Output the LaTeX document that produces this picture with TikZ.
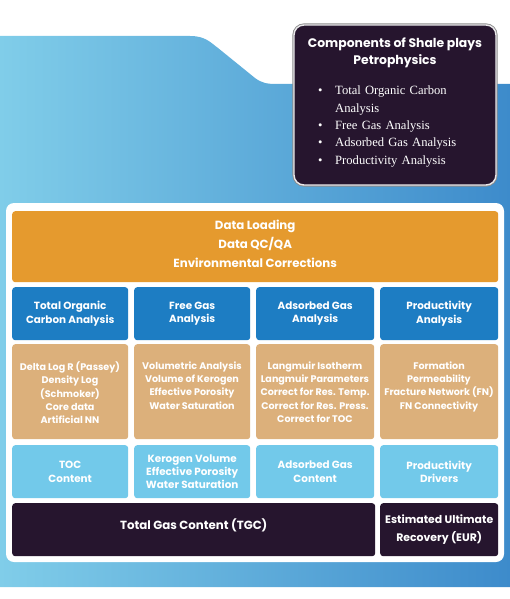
\documentclass[tikz,border=0pt]{standalone}
\usepackage{fontspec}
\setmainfont{Liberation Serif}
\setsansfont{Poppins}
\definecolor{bgL}{HTML}{80CDE9}
\definecolor{bgR}{HTML}{3D8BCB}
\definecolor{darkP}{HTML}{26152E}
\definecolor{orangeC}{HTML}{E59A2E}
\definecolor{blueH}{HTML}{1D7DC3}
\definecolor{tanC}{HTML}{DCB07B}
\definecolor{lblue}{HTML}{72C9EA}
\begin{document}
\begin{tikzpicture}[x=1pt,y=-1pt,
  boxbase/.style={anchor=north west,inner sep=0pt,rounded corners=3pt,align=center,text=white,font=\sffamily\bfseries\fontsize{10.4}{13.3}\selectfont},
  headbox/.style={boxbase,fill=blueH},
  tanbox/.style={boxbase,fill=tanC},
  tantext/.style={boxbase,anchor=north,font=\sffamily\bfseries\fontsize{9.6}{13.3}\selectfont},
  lbbox/.style={boxbase,fill=lblue},
  darkbox/.style={boxbase,fill=darkP,font=\sffamily\bfseries\fontsize{11.8}{18}\selectfont}
]
\useasboundingbox (0,0) rectangle (510,599);
% background shape
\shade[left color=bgL,right color=bgR]
  (0,36) -- (190,36) .. controls (205,36) and (210,42) .. (218,48)
  -- (255,78) .. controls (262,83) and (266,84) .. (278,84)
  -- (510,84) -- (510,587) -- (0,587) -- cycle;
% components box
\draw[draw=black!45,line width=3.2pt,rounded corners=10pt] (294,25) rectangle (496,185);
\draw[fill=darkP,draw=white!90!darkP,line width=1.4pt,rounded corners=10pt] (294,25) rectangle (496,185);
\node[anchor=north,align=center,text=white,font=\sffamily\bfseries\fontsize{12.4}{17}\selectfont,inner sep=0pt] (title) at (395,38) {Components of Shale plays\\Petrophysics};
\node[anchor=north west,text=white,font=\fontsize{12.6}{17.3}\selectfont,inner sep=0pt,text width=150pt,align=left] (list) at (318,86)
 {\makebox[17pt][l]{\textbullet}Total Organic Carbon\\
  \hspace*{17pt}Analysis\\
  \makebox[17pt][l]{\textbullet}Free Gas Analysis\\
  \makebox[17pt][l]{\textbullet}Adsorbed Gas Analysis\\
  \makebox[17pt][l]{\textbullet}Productivity Analysis};
% white panel
\fill[white,rounded corners=8pt] (6,203) rectangle (504,562);
% orange
\node[boxbase,fill=orangeC,minimum width=486pt,minimum height=71pt,font=\sffamily\bfseries\fontsize{11.8}{18.7}\selectfont] (data) at (12,211) {Data Loading\\Data QC/QA\\Environmental Corrections\\[-13pt]\mbox{}};
% headers
\node[headbox,minimum width=116pt,minimum height=53pt] (h1) at (12,287) {Total Organic\\Carbon Analysis};
\node[headbox,minimum width=116pt,minimum height=53pt] (h2) at (134,287) {Free Gas\\Analysis};
\node[headbox,minimum width=118pt,minimum height=53pt] (h3) at (256,287) {Adsorbed Gas\\Analysis};
\node[headbox,minimum width=118pt,minimum height=53pt] (h4) at (380,287) {Productivity\\Analysis};
% tan
\node[tanbox,minimum width=116pt,minimum height=95pt] (t1) at (12,344) {};
\node[tantext] (t1t) at (70,361.5) {Delta Log R (Passey)\\Density Log\\(Schmoker)\\Core data\\Artificial NN};
\node[tanbox,minimum width=116pt,minimum height=95pt] (t2) at (134,344) {};
\node[tantext] (t2t) at (192,361.5) {Volumetric Analysis\\Volume of Kerogen\\Effective Porosity\\Water Saturation};
\node[tanbox,minimum width=118pt,minimum height=95pt] (t3) at (256,344) {};
\node[tantext] (t3t) at (315,361.5) {Langmuir Isotherm\\Langmuir Parameters\\Correct for Res. Temp.\\Correct for Res. Press.\\Correct for TOC};
\node[tanbox,minimum width=118pt,minimum height=95pt] (t4) at (380,344) {};
\node[tantext] (t4t) at (439,361.5) {Formation\\Permeability\\Fracture Network (FN)\\FN Connectivity};
% light blue
\node[lbbox,minimum width=116pt,minimum height=53pt] (l1) at (12,445) {TOC\\Content};
\node[lbbox,minimum width=116pt,minimum height=53pt] (l2) at (134,445) {Kerogen Volume\\Effective Porosity\\Water Saturation};
\node[lbbox,minimum width=118pt,minimum height=53pt] (l3) at (256,445) {Adsorbed Gas\\Content};
\node[lbbox,minimum width=118pt,minimum height=53pt] (l4) at (380,445) {Productivity\\Drivers};
% bottom
\node[darkbox,minimum width=363pt,minimum height=53pt] (tgc) at (12,503) {\raisebox{12pt}{Total Gas Content (TGC)}};
\node[darkbox,minimum width=118pt,minimum height=53pt,font=\sffamily\bfseries\fontsize{10.9}{18.5}\selectfont] (eur) at (380,503) {Estimated Ultimate\\Recovery (EUR)};
\end{tikzpicture}
\end{document}
